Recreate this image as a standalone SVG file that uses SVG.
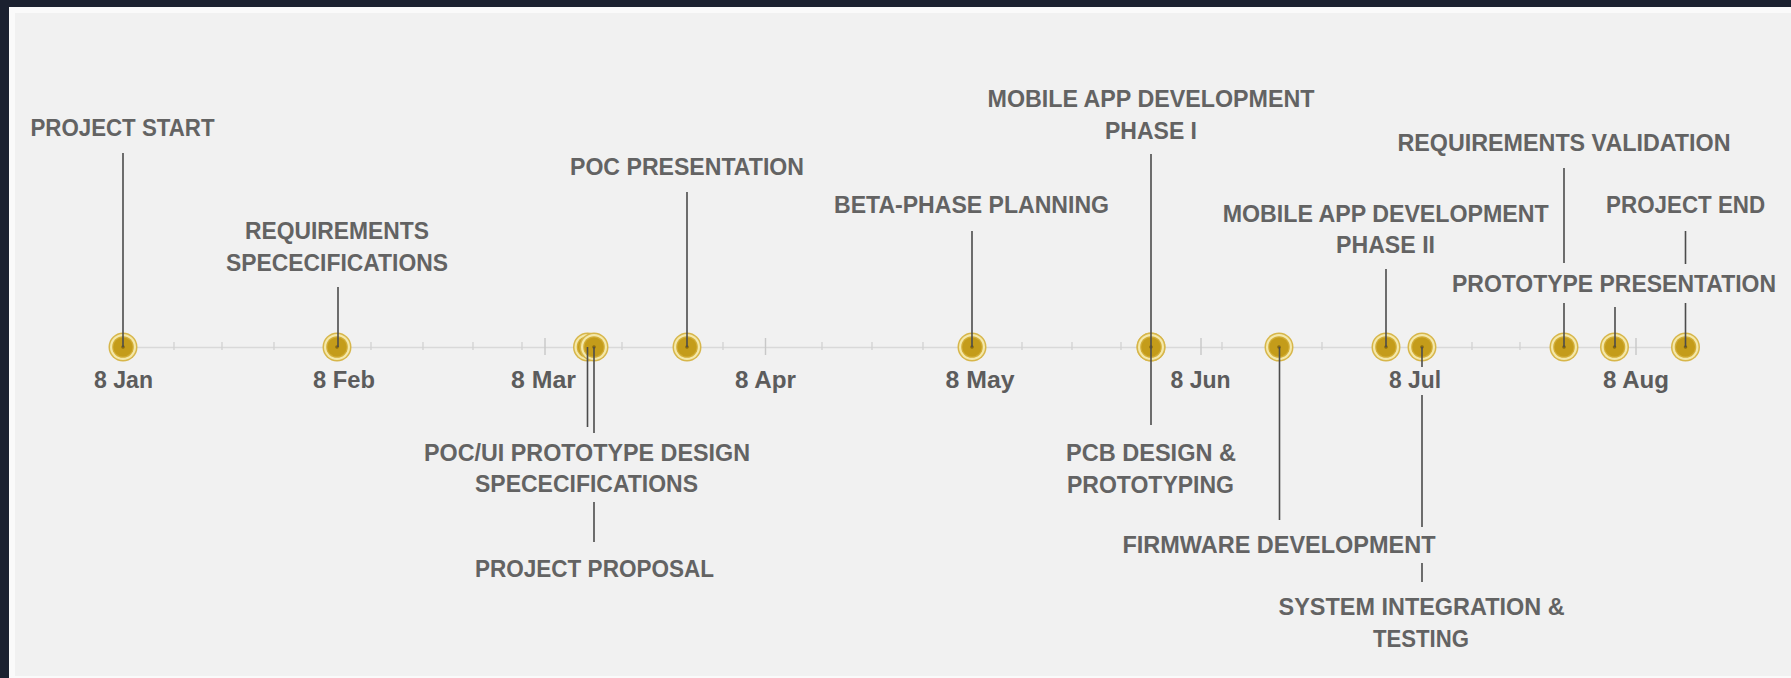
<svg xmlns="http://www.w3.org/2000/svg" xmlns:xlink="http://www.w3.org/1999/xlink" width="1791" height="678" viewBox="0 0 1791 678">
  <style>
    .lbl { font-family: "Liberation Sans", Arial, sans-serif; font-weight: bold; font-size: 23.5px; fill: #636363; text-anchor: middle; }
    .date { font-family: "Liberation Sans", Arial, sans-serif; font-weight: bold; font-size: 23.5px; fill: #5c5c5c; text-anchor: middle; }
    .stem { stroke: #4c4c4c; stroke-width: 1.6; fill: none; }
    .axis { stroke: #d9d9d9; stroke-width: 1.5; }
    .tick { stroke: #d2d2d2; stroke-width: 1.3; }
    .mtick { stroke: #c8c8c8; stroke-width: 1.4; }
  </style>
  <defs>
    <!-- milestone pin: gold disc inside a pale ring with a gold rim -->
    <g id="pin">
      <circle r="14.5" fill="#d7b64a"/>
      <circle r="13" fill="#f4e8aa"/>
      <circle r="10.8" fill="#d2ad36"/>
      <circle r="9.6" fill="#c49c1a"/>
      <circle r="1.8" fill="#86680f"/>
    </g>
  </defs>

  <!-- frame -->
  <rect x="0" y="0" width="1791" height="678" fill="#1b2130"/>
  <rect x="9" y="7" width="1782" height="671" fill="#fafafa"/>
  <rect x="15" y="13" width="1776" height="663" fill="#f1f1f1"/>

  <!-- time axis with weekly and monthly ticks -->
  <g id="axis">
    <line class="axis" x1="123" y1="347.5" x2="1686" y2="347.5"/>
    <g class="tick">
      <line x1="174" y1="342" x2="174" y2="350"/>
      <line x1="222" y1="342" x2="222" y2="350"/>
      <line x1="274" y1="342" x2="274" y2="350"/>
      <line x1="371" y1="342" x2="371" y2="350"/>
      <line x1="423" y1="342" x2="423" y2="350"/>
      <line x1="473" y1="342" x2="473" y2="350"/>
      <line x1="522" y1="342" x2="522" y2="350"/>
      <line x1="622" y1="342" x2="622" y2="350"/>
      <line x1="723" y1="342" x2="723" y2="350"/>
      <line x1="822" y1="342" x2="822" y2="350"/>
      <line x1="872" y1="342" x2="872" y2="350"/>
      <line x1="923" y1="342" x2="923" y2="350"/>
      <line x1="1022" y1="342" x2="1022" y2="350"/>
      <line x1="1072" y1="342" x2="1072" y2="350"/>
      <line x1="1121" y1="342" x2="1121" y2="350"/>
      <line x1="1222" y1="342" x2="1222" y2="350"/>
      <line x1="1322" y1="342" x2="1322" y2="350"/>
      <line x1="1472" y1="342" x2="1472" y2="350"/>
      <line x1="1520" y1="342" x2="1520" y2="350"/>
    </g>
    <g class="mtick">
      <line x1="545" y1="338" x2="545" y2="355"/>
      <line x1="765.5" y1="338" x2="765.5" y2="355"/>
      <line x1="1201" y1="338" x2="1201" y2="355"/>
      <line x1="1636" y1="338" x2="1636" y2="355"/>
    </g>
    <text class="date" x="123.5" y="388" textLength="59" lengthAdjust="spacingAndGlyphs">8 Jan</text>
    <text class="date" x="344" y="388" textLength="62" lengthAdjust="spacingAndGlyphs">8 Feb</text>
    <text class="date" x="543.5" y="388" textLength="65" lengthAdjust="spacingAndGlyphs">8 Mar</text>
    <text class="date" x="765.5" y="388" textLength="61" lengthAdjust="spacingAndGlyphs">8 Apr</text>
    <text class="date" x="980" y="388" textLength="69" lengthAdjust="spacingAndGlyphs">8 May</text>
    <text class="date" x="1200.5" y="388" textLength="60" lengthAdjust="spacingAndGlyphs">8 Jun</text>
    <text class="date" x="1415" y="388" textLength="52" lengthAdjust="spacingAndGlyphs">8 Jul</text>
    <text class="date" x="1636" y="388" textLength="66" lengthAdjust="spacingAndGlyphs">8 Aug</text>
  </g>

  <!-- milestones -->
  <g id="project-start">
    <use href="#pin" x="123" y="347"/>
    <text class="lbl" x="122.5" y="136" textLength="184" lengthAdjust="spacingAndGlyphs">PROJECT START</text>
  </g>
  <g id="requirements-specifications">
    <use href="#pin" x="337" y="347"/>
    <text class="lbl" x="337" y="239" textLength="184" lengthAdjust="spacingAndGlyphs">REQUIREMENTS</text>
    <text class="lbl" x="337" y="271" textLength="222" lengthAdjust="spacingAndGlyphs">SPECECIFICATIONS</text>
  </g>
  <g id="poc-ui-prototype-design">
    <use href="#pin" x="587.5" y="347"/>
    <text class="lbl" x="587" y="461" textLength="326" lengthAdjust="spacingAndGlyphs">POC/UI PROTOTYPE DESIGN</text>
    <text class="lbl" x="586.5" y="492" textLength="223" lengthAdjust="spacingAndGlyphs">SPECECIFICATIONS</text>
  </g>
  <g id="project-proposal">
    <use href="#pin" x="594" y="347"/>
    <text class="lbl" x="594.5" y="577" textLength="239" lengthAdjust="spacingAndGlyphs">PROJECT PROPOSAL</text>
  </g>
  <g id="poc-presentation">
    <use href="#pin" x="687" y="347"/>
    <text class="lbl" x="687" y="175" textLength="234" lengthAdjust="spacingAndGlyphs">POC PRESENTATION</text>
  </g>
  <g id="beta-phase-planning">
    <use href="#pin" x="972" y="347"/>
    <text class="lbl" x="971.5" y="213" textLength="275" lengthAdjust="spacingAndGlyphs">BETA-PHASE PLANNING</text>
  </g>
  <g id="mobile-app-phase-1">
    <use href="#pin" x="1151" y="347"/>
    <text class="lbl" x="1151" y="107" textLength="327" lengthAdjust="spacingAndGlyphs">MOBILE APP DEVELOPMENT</text>
    <text class="lbl" x="1151" y="139" textLength="92" lengthAdjust="spacingAndGlyphs">PHASE I</text>
  </g>
  <g id="pcb-design">
    <use href="#pin" x="1151" y="347"/>
    <text class="lbl" x="1151" y="461" textLength="170" lengthAdjust="spacingAndGlyphs">PCB DESIGN &amp;</text>
    <text class="lbl" x="1150.5" y="493" textLength="167" lengthAdjust="spacingAndGlyphs">PROTOTYPING</text>
  </g>
  <g id="firmware-development">
    <use href="#pin" x="1279" y="347"/>
    <text class="lbl" x="1279" y="553" textLength="313" lengthAdjust="spacingAndGlyphs">FIRMWARE DEVELOPMENT</text>
  </g>
  <g id="mobile-app-phase-2">
    <use href="#pin" x="1386" y="347"/>
    <text class="lbl" x="1385.7" y="222" textLength="326" lengthAdjust="spacingAndGlyphs">MOBILE APP DEVELOPMENT</text>
    <text class="lbl" x="1385.5" y="253" textLength="99" lengthAdjust="spacingAndGlyphs">PHASE II</text>
  </g>
  <g id="system-integration">
    <use href="#pin" x="1422" y="347"/>
    <text class="lbl" x="1421.6" y="615" textLength="286" lengthAdjust="spacingAndGlyphs">SYSTEM INTEGRATION &amp;</text>
    <text class="lbl" x="1421" y="647" textLength="96" lengthAdjust="spacingAndGlyphs">TESTING</text>
  </g>
  <g id="requirements-validation">
    <use href="#pin" x="1564" y="347"/>
    <text class="lbl" x="1564" y="151" textLength="333" lengthAdjust="spacingAndGlyphs">REQUIREMENTS VALIDATION</text>
  </g>
  <g id="prototype-presentation">
    <use href="#pin" x="1614.5" y="347"/>
    <text class="lbl" x="1614" y="292" textLength="324" lengthAdjust="spacingAndGlyphs">PROTOTYPE PRESENTATION</text>
  </g>
  <g id="project-end">
    <use href="#pin" x="1685.5" y="347"/>
    <text class="lbl" x="1685.6" y="213" textLength="159" lengthAdjust="spacingAndGlyphs">PROJECT END</text>
  </g>

  <!-- leader lines from labels to pins -->
  <g id="connectors" class="stem">
    <line x1="123" y1="153" x2="123" y2="347"/>
    <line x1="338" y1="287" x2="338" y2="347"/>
    <line x1="587.5" y1="347" x2="587.5" y2="427"/>
    <line x1="594" y1="347" x2="594" y2="433"/>
    <line x1="594" y1="502" x2="594" y2="542"/>
    <line x1="687" y1="192" x2="687" y2="347"/>
    <line x1="972" y1="231" x2="972" y2="347"/>
    <line x1="1151" y1="154" x2="1151" y2="347"/>
    <line x1="1151" y1="347" x2="1151" y2="425"/>
    <line x1="1279.5" y1="347" x2="1279.5" y2="520"/>
    <line x1="1386" y1="269" x2="1386" y2="347"/>
    <line x1="1422" y1="347" x2="1422" y2="367"/>
    <line x1="1422" y1="395" x2="1422" y2="527"/>
    <line x1="1422" y1="563" x2="1422" y2="582"/>
    <line x1="1564" y1="168" x2="1564" y2="263"/>
    <line x1="1564" y1="303" x2="1564" y2="347"/>
    <line x1="1615" y1="307" x2="1615" y2="347"/>
    <line x1="1685.5" y1="231" x2="1685.5" y2="264"/>
    <line x1="1685.5" y1="303" x2="1685.5" y2="347"/>
  </g>
</svg>
